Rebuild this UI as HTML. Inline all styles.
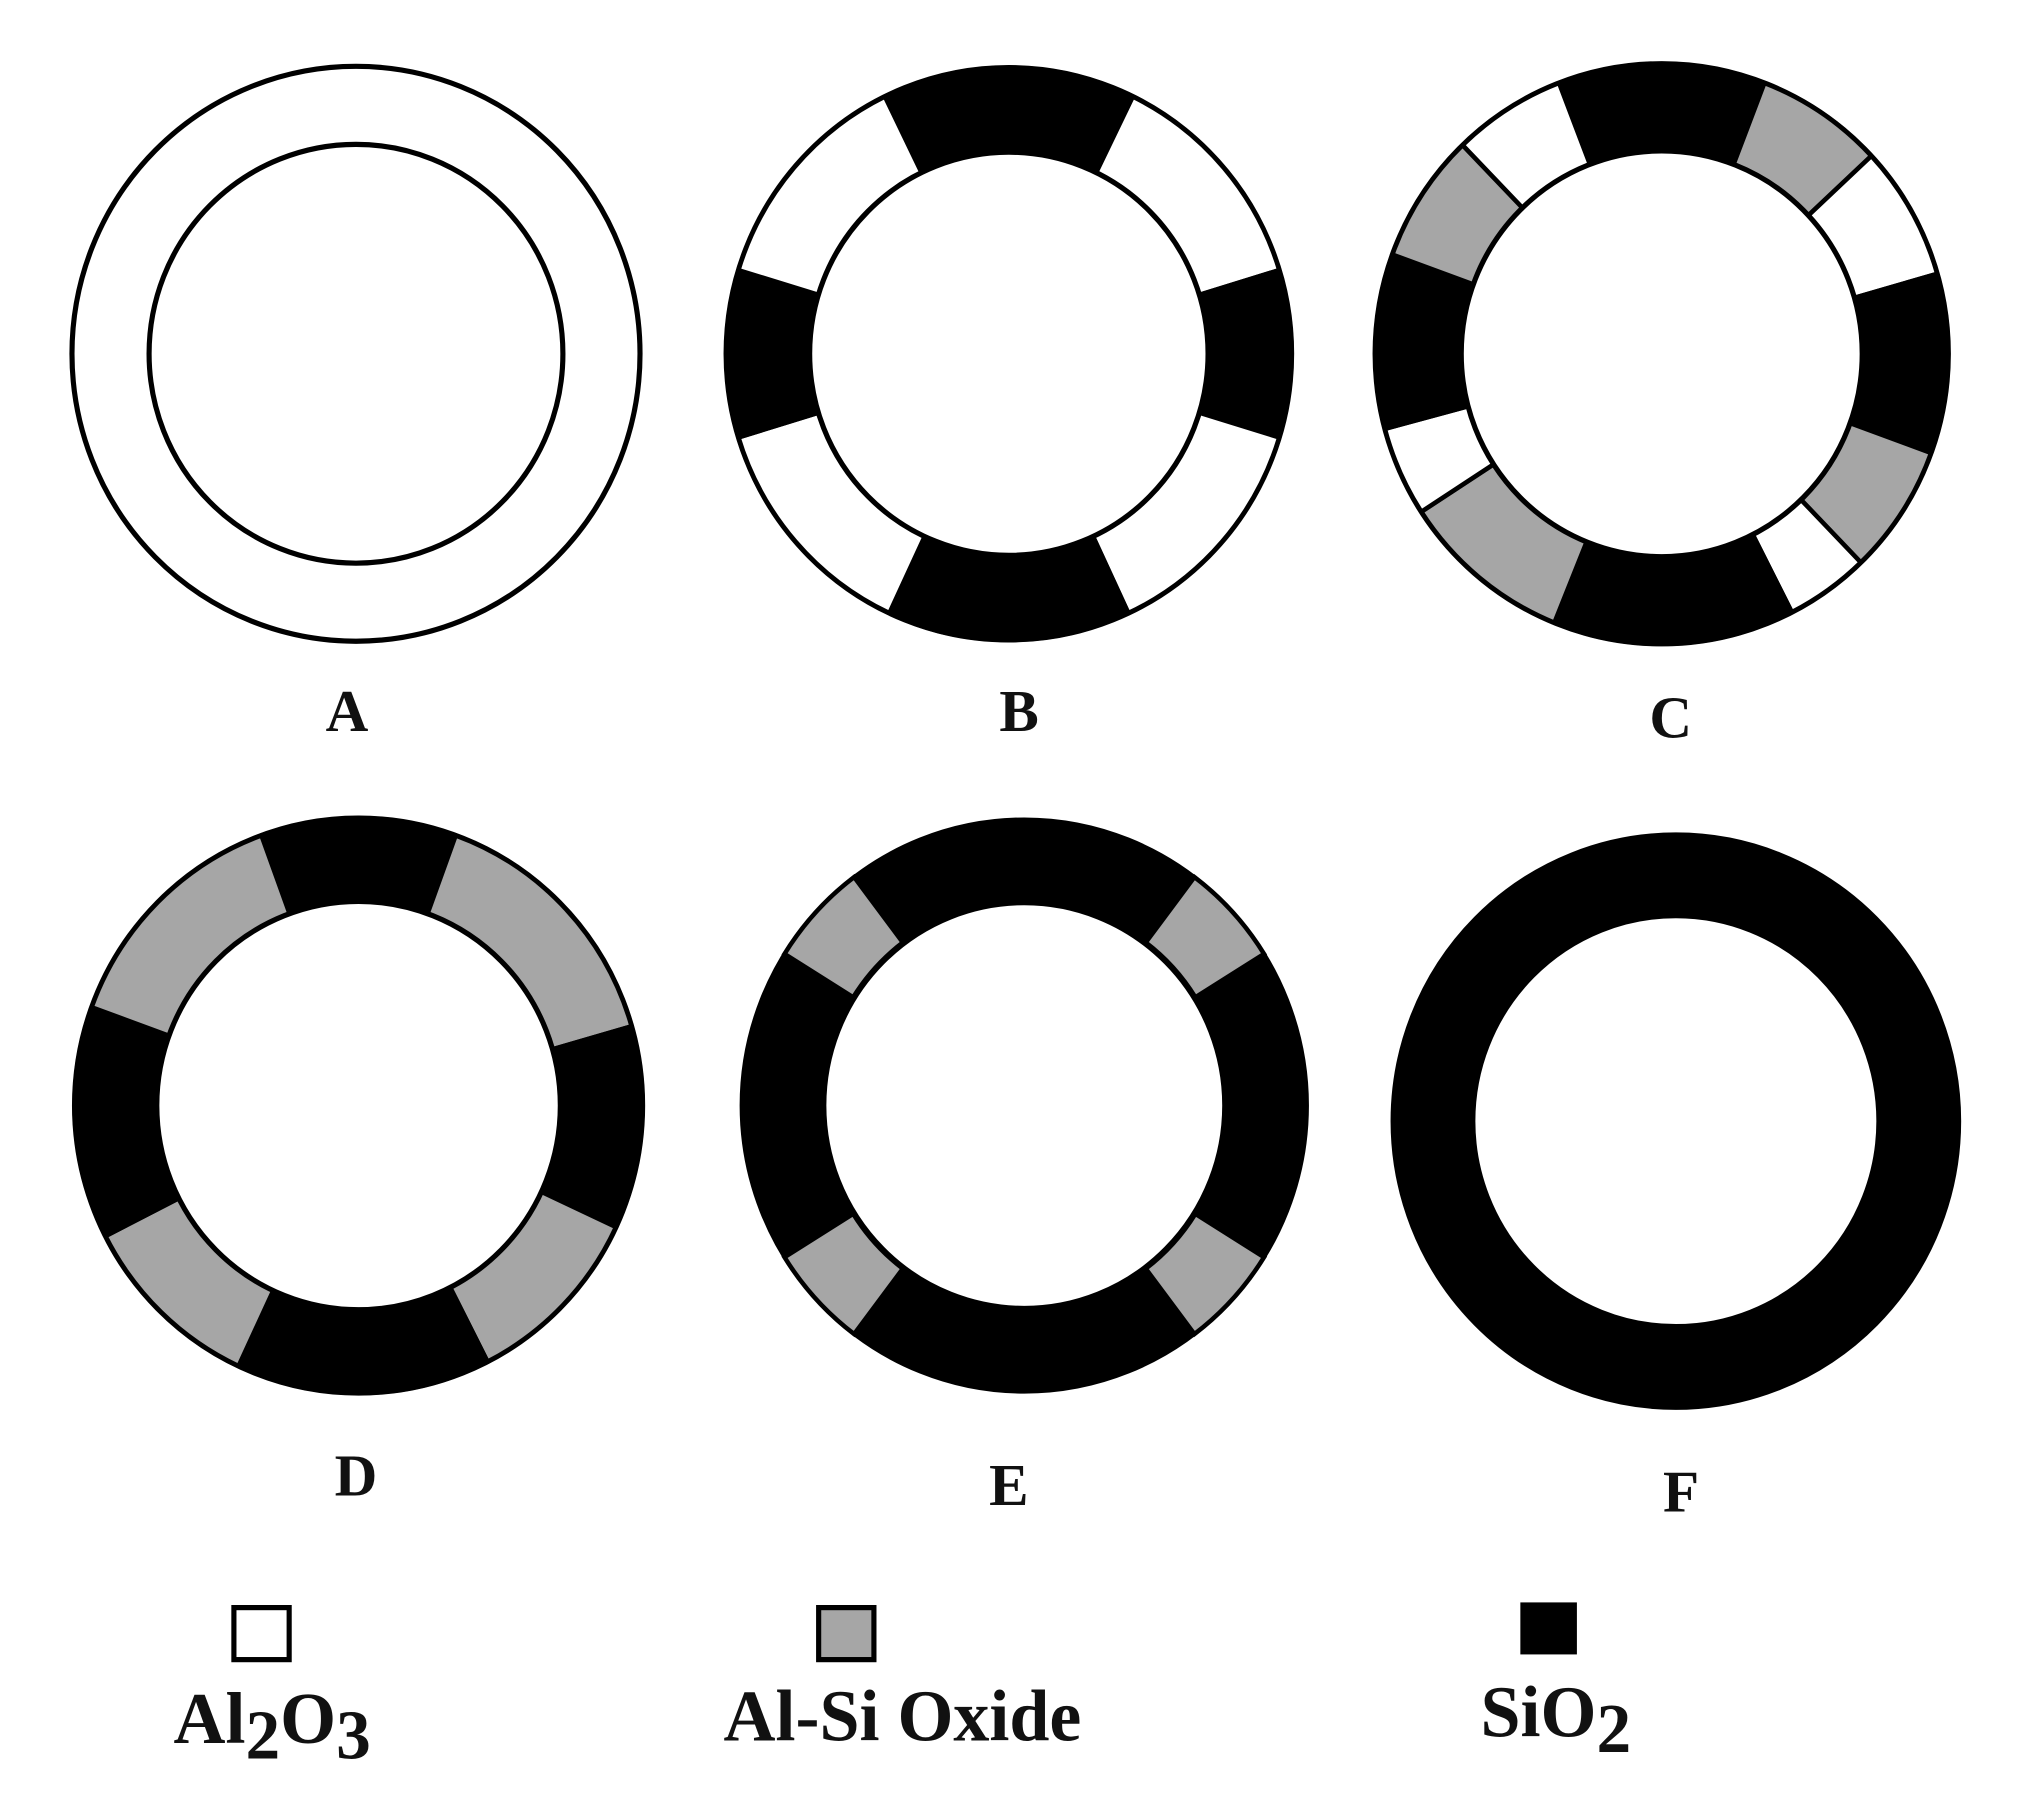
<!DOCTYPE html>
<html><head><meta charset="utf-8"><style>
html,body{margin:0;padding:0;background:#fff}
svg{display:block}
text{font-family:"Liberation Serif",serif;font-weight:bold;fill:#111}
</style></head><body>
<svg id="s" width="2019" height="1804" viewBox="0 0 1571 1387" preserveAspectRatio="none" xmlns="http://www.w3.org/2000/svg">
<g id="rings"></g>
<text x="270" y="562" font-size="46" text-anchor="middle">A</text>
<text x="793" y="562" font-size="46" text-anchor="middle">B</text>
<text x="1300" y="567" font-size="46" text-anchor="middle">C</text>
<text x="277" y="1150" font-size="46" text-anchor="middle">D</text>
<text x="785" y="1157" font-size="46" text-anchor="middle">E</text>
<text x="1308" y="1162" font-size="46" text-anchor="middle">F</text>
<rect x="182" y="1236" width="43" height="40" fill="#fff" stroke="#000" stroke-width="4"/>
<rect x="637" y="1236" width="43" height="40" fill="#a6a6a6" stroke="#000" stroke-width="4"/>
<rect x="1183" y="1232" width="44" height="40" fill="#000"/>
<text x="135" y="1340" font-size="56">Al<tspan font-size="54" dy="12">2</tspan><tspan dy="-12">O</tspan><tspan font-size="54" dy="12">3</tspan></text>
<text x="563" y="1338" font-size="56">Al-Si Oxide</text>
<text x="1152" y="1335" font-size="56">SiO<tspan font-size="54" dy="12">2</tspan></text>
</svg>
<script>
var G=document.getElementById('rings'),NS='http://www.w3.org/2000/svg';
var W='#fff',K='#000',Y='#a6a6a6';
function pt(cx,cy,r,a){a=a*Math.PI/180;return (cx+r*Math.sin(a))+' '+(cy-r*Math.cos(a));}
function seg(cx,cy,ro,ri,a0,a1,f){
 var l=(a1-a0)>180?1:0;
 var d='M'+pt(cx,cy,ro,a0)+' A'+ro+' '+ro+' 0 '+l+' 1 '+pt(cx,cy,ro,a1)+' L'+pt(cx,cy,ri,a1)+' A'+ri+' '+ri+' 0 '+l+' 0 '+pt(cx,cy,ri,a0)+'Z';
 var e=document.createElementNS(NS,'path');e.setAttribute('d',d);
 e.setAttribute('fill',f);e.setAttribute('stroke','#000');e.setAttribute('stroke-width','3.5');G.appendChild(e);}
function circ(cx,cy,r,f,sw){var e=document.createElementNS(NS,'circle');e.setAttribute('cx',cx);e.setAttribute('cy',cy);e.setAttribute('r',r);
 e.setAttribute('fill',f);e.setAttribute('stroke','#000');e.setAttribute('stroke-width',sw||'4');G.appendChild(e);}
function ring(cx,cy,ro,ri,segs){
 circ(cx,cy,ro,'#fff');
 if(segs)for(var i=0;i<segs.length;i++)seg(cx,cy,ro,ri,segs[i][0],segs[i][1],segs[i][2]);
 circ(cx,cy,ri,'#fff');}
ring(277,272,221,161,null);
ring(785,272,220,155,[[-26,26,K],[26,73,W],[73,107,K],[107,155,W],[155,205,K],[205,253,W],[253,287,K],[287,334,W]]);
ring(1293,272,223,156,[[-21,21,K],[21,47,Y],[47,74,W],[74,110,K],[110,136,Y],[136,153,W],[153,202,K],[202,237,Y],[237,255,W],[255,290,K],[290,316,Y],[316,339,W]]);
ring(279,850,221,157,[[-20,20,K],[20,74,Y],[74,115,K],[115,153,Y],[153,205,K],[205,243,Y],[243,290,K],[290,340,Y]]);
var e=document.createElementNS(NS,'circle');e.setAttribute('cx',797);e.setAttribute('cy',850);e.setAttribute('r',188.5);
e.setAttribute('fill','none');e.setAttribute('stroke','#000');e.setAttribute('stroke-width','66');G.appendChild(e);
[[37,58],[122,143],[217,238],[302,323]].forEach(function(a){seg(797,850,220,157,a[0],a[1],Y);});
circ(797,850,156,'#fff');
var f=document.createElementNS(NS,'circle');f.setAttribute('cx',1304);f.setAttribute('cy',862);f.setAttribute('r',189);
f.setAttribute('fill','none');f.setAttribute('stroke','#000');f.setAttribute('stroke-width','66');G.appendChild(f);
</script>
</body></html>
